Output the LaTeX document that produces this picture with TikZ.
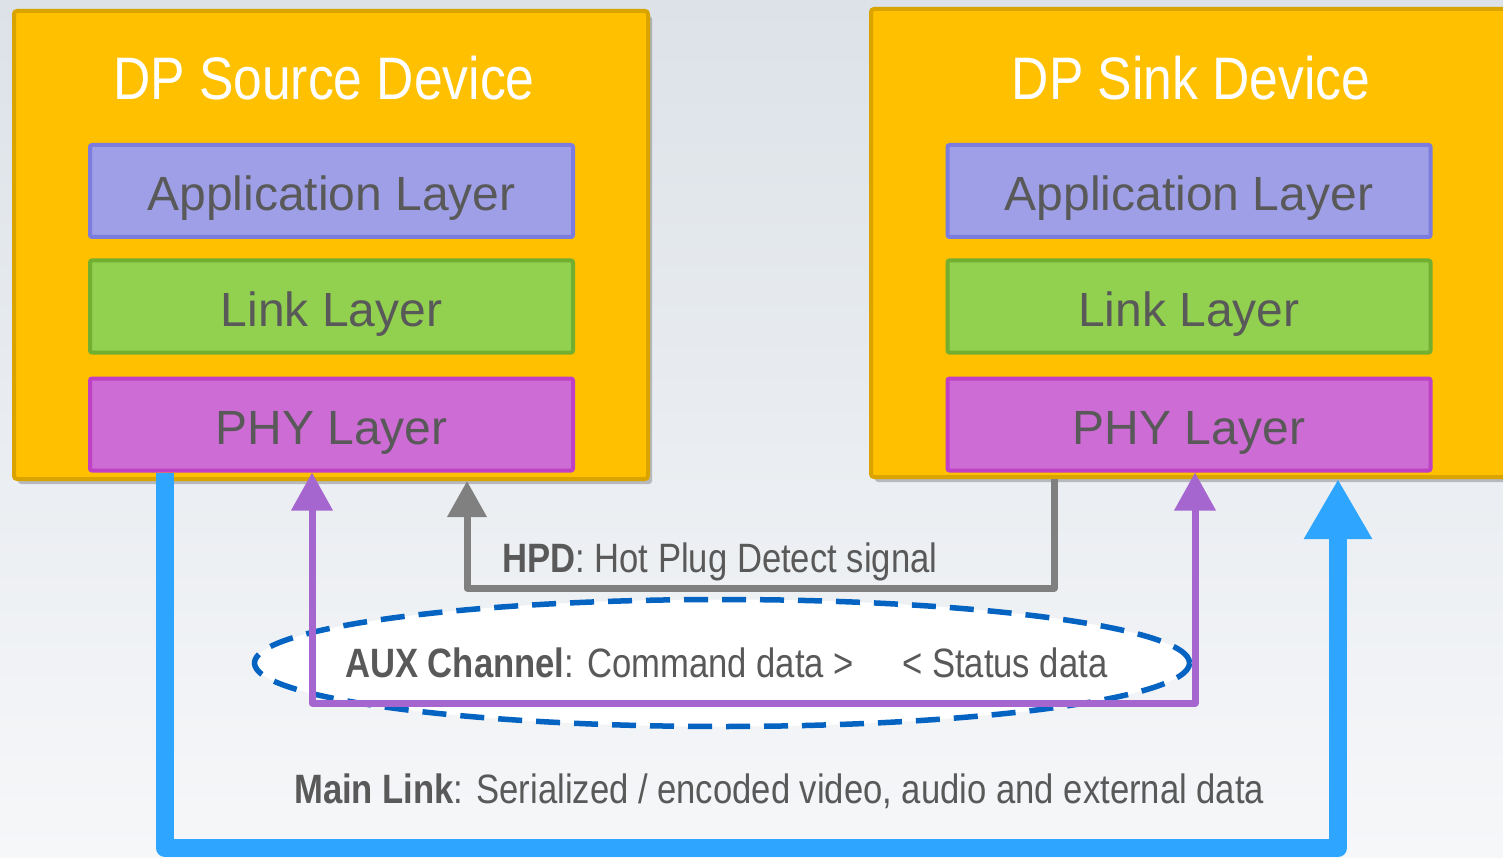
\documentclass[tikz,border=0pt]{standalone}
\usepackage{fontspec}
\setmainfont{Liberation Sans}
\newfontfamily\narrowfont[FakeStretch=0.86]{Liberation Sans}
\newfontfamily\labelfont[FakeStretch=0.845]{Liberation Sans}
\usetikzlibrary{arrows.meta,shapes.geometric,shadows}
\definecolor{bgtop}{HTML}{DCE2E8}
\definecolor{bgbot}{HTML}{F6F7F9}
\definecolor{devfill}{HTML}{FFC000}
\definecolor{devborder}{HTML}{D9A400}
\definecolor{appfill}{HTML}{9E9FE6}
\definecolor{appborder}{HTML}{7B7CDE}
\definecolor{linkfill}{HTML}{92D050}
\definecolor{linkborder}{HTML}{72AE30}
\definecolor{phyfill}{HTML}{CC6CD4}
\definecolor{phyborder}{HTML}{BF40C5}
\definecolor{txt}{HTML}{595959}
\definecolor{hpdgray}{HTML}{808080}
\definecolor{auxpurple}{HTML}{A566D0}
\definecolor{mainblue}{HTML}{2EA6FF}
\definecolor{dashblue}{HTML}{0563C1}
\tikzset{
  device/.style={draw=devborder, fill=devfill, line width=4pt, rounded corners=3pt,
    minimum width=634pt, minimum height=468pt, inner sep=0pt,
    drop shadow={shadow xshift=4pt, shadow yshift=-5pt, opacity=0.22, fill=black}},
  layer/.style={line width=4pt, rounded corners=2pt, minimum width=483pt, minimum height=92pt,
    inner sep=0pt, text height=40pt, text depth=0pt, font=\fontsize{48}{50}\selectfont, text=txt},
  applayer/.style={layer, draw=appborder, fill=appfill},
  linklayer/.style={layer, draw=linkborder, fill=linkfill},
  phylayer/.style={layer, draw=phyborder, fill=phyfill},
  title/.style={anchor=base, text=white, inner sep=0pt, font=\narrowfont\fontsize{60}{72}\selectfont},
  label/.style={anchor=base west, text=txt, inner sep=0pt, font=\labelfont\fontsize{41}{48}\selectfont},
  hpdline/.style={draw=hpdgray, line width=7pt, line join=round, -{Triangle[length=36pt,width=38pt]}},
  auxline/.style={draw=auxpurple, line width=7pt, line join=round,
    {Triangle[length=38pt,width=40pt]}-{Triangle[length=38pt,width=40pt]}},
  mainline/.style={draw=mainblue, line width=18pt, line join=round, -{Triangle[length=60pt,width=64pt]}},
}
\begin{document}
\begin{tikzpicture}[x=1pt,y=-1pt]
\shade[top color=bgtop, bottom color=bgbot] (0,0) rectangle (1503,858);
\useasboundingbox (0,0) rectangle (1503,858);
\clip (0,0) rectangle (1503,858);

% devices
\node[device] (srcdev) at (331,245) {};
\node[device, minimum width=637pt] (sinkdev) at (1189.5,243) {};
\node[title] (srct) at (324,100) {DP Source Device};
\node[title] (sinkt) at (1191,100) {DP Sink Device};

% layers
\node[applayer] (appS) at (331.5,191) {Application Layer};
\node[linklayer] (linkS) at (331.5,306.5) {Link Layer};
\node[phylayer] (phyS) at (331.5,424.5) {PHY Layer};
\node[applayer] (appK) at (1189,191) {Application Layer};
\node[linklayer] (linkK) at (1189,306.5) {Link Layer};
\node[phylayer] (phyK) at (1189,424.5) {PHY Layer};

% AUX ellipse
\node[ellipse, draw=dashblue, fill=white, line width=5.5pt, dash pattern=on 24pt off 14pt,
  minimum width=935pt, minimum height=127pt, inner sep=0pt] (auxell) at (722,663) {};

% HPD
\coordinate (hpdR) at (1054,588);
\coordinate (hpdL) at (467,588);
\draw[hpdline] (sinkdev.south -| hpdR) -- (hpdR) -- (hpdL) -- (hpdL |- srcdev.south);

% AUX
\coordinate (auxL) at (312,703);
\coordinate (auxR) at (1195,703);
\draw[auxline] (auxL |- phyS.south) -- (auxL) -- (auxR) -- (auxR |- phyK.south);

% Main link
\coordinate (mainL) at (165,848);
\coordinate (mainR) at (1338,848);
\draw[mainline] (mainL |- phyS.south) -- (mainL) -- (mainR) -- (mainR |- sinkdev.south);

% labels
\node[label] (hpdt) at (502,572) {\textbf{HPD}: Hot Plug Detect signal};
\node[label] (auxt) at (345,677) {\textbf{AUX Channel}: Command data >};
\node[label] (statt) at (902,677) {< Status data};
\node[label] (maint) at (294,803) {\textbf{Main Link}: Serialized / encoded video, audio and external data};
\end{tikzpicture}
\end{document}
